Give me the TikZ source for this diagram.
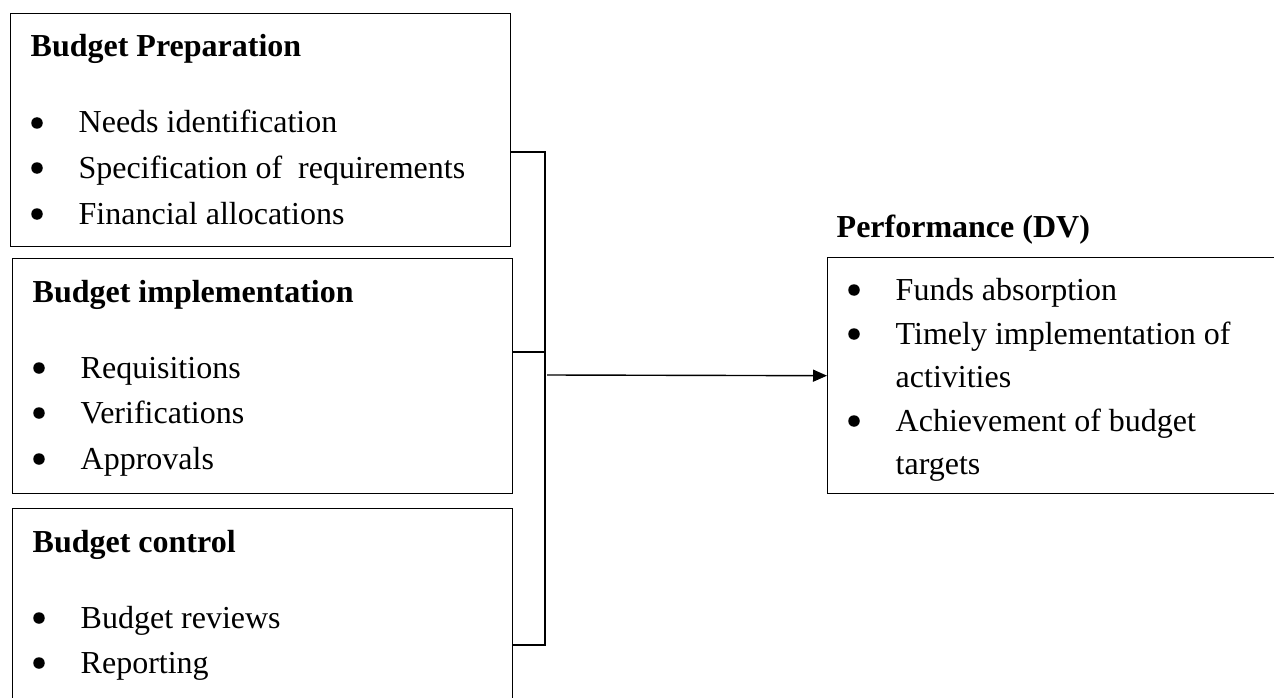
\documentclass[tikz,border=0pt]{standalone}
\usepackage{fontspec}
\setmainfont{Liberation Serif}
\usetikzlibrary{arrows.meta}

\begin{document}
\begin{tikzpicture}[x=1pt,y=-1pt, line width=1.4pt,
  font={\fontsize{32}{40}\selectfont},
  box/.style={draw, anchor=north west, inner sep=0pt},
  txt/.style={anchor=base west, inner sep=0pt},
  dot/.style={circle, fill, inner sep=0pt, minimum size=11.5pt},
  head/.style={anchor=base west, inner sep=0pt, font={\fontsize{32}{40}\selectfont\bfseries}}]
\useasboundingbox (0,0) rectangle (1274,698);
% boxes
\node[box, minimum width=500pt, minimum height=233pt] (prep) at (10,13) {};
\node[box, minimum width=500pt, minimum height=235pt] (impl) at (12,258) {};
\node[box, minimum width=500pt, minimum height=210pt] (ctrl) at (12,508) {};
\node[box, minimum width=470pt, minimum height=236pt] (perf) at (827,257) {};
% budget preparation
\node[head] (prepHead) at (30,57) {Budget Preparation};
\node[dot] (prepB1) at (37,123) {};
\node[txt] (prepT1) at (78,133) {Needs identification};
\node[dot] (prepB2) at (37,168) {};
\node[txt] (prepT2) at (78,178) {Specification of \ requirements};
\node[dot] (prepB3) at (37,214) {};
\node[txt] (prepT3) at (78,224) {Financial allocations};
% budget implementation
\node[head] (implHead) at (32,302) {Budget implementation};
\node[dot] (implB1) at (39,368) {};
\node[txt] (implT1) at (80,378) {Requisitions};
\node[dot] (implB2) at (39,413) {};
\node[txt] (implT2) at (80,423) {Verifications};
\node[dot] (implB3) at (39,459) {};
\node[txt] (implT3) at (80,469) {Approvals};
% budget control
\node[head] (ctrlHead) at (32,552) {Budget control};
\node[dot] (ctrlB1) at (39,618) {};
\node[txt] (ctrlT1) at (80,628) {Budget reviews};
\node[dot] (ctrlB2) at (39,663) {};
\node[txt] (ctrlT2) at (80,673) {Reporting};
% performance
\node[head] (perfHead) at (836,237) {Performance (DV)};
\node[dot] (perfB1) at (854,290) {};
\node[txt] (perfT1) at (895,300) {Funds absorption};
\node[dot] (perfB2) at (854,334) {};
\node[txt] (perfT2) at (895,344) {Timely implementation of};
\node[txt] (perfT3) at (895,387) {activities};
\node[dot] (perfB3) at (854,421) {};
\node[txt] (perfT4) at (895,431) {Achievement of budget};
\node[txt] (perfT5) at (895,474) {targets};
% connectors
\coordinate (jA) at (545,152);
\coordinate (jB) at (545,352);
\coordinate (jC) at (545,645);
\coordinate (jM) at (547,375);
\draw (prep.east |- jA) -- (jA) -- (jC) -- (ctrl.east |- jC);
\draw (impl.east |- jB) -- (jB);
\draw[-{Triangle[length=14pt,width=12pt]}] (jM) -- (perf.west);
\end{tikzpicture}
\end{document}
